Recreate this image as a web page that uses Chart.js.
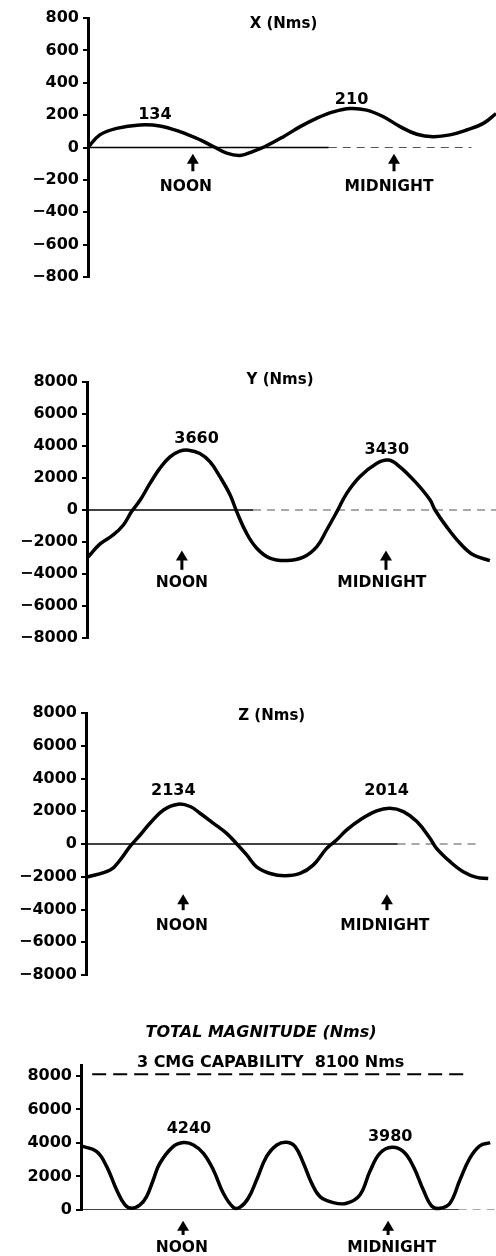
<!DOCTYPE html>
<html>
<head>
<meta charset="utf-8">
<script src="https://cdn.jsdelivr.net/npm/chart.js@4.4.0/dist/chart.umd.min.js"></script>
<style>
  html, body { margin: 0; padding: 0; background: #fff; }
  #wrap { position: relative; width: 496px; height: 1256px; overflow: hidden; }
  canvas { position: absolute; left: 0; }
</style>
</head>
<body>
<div id="wrap">
  <canvas id="chartX" width="496" height="300" style="top:0px"></canvas>
  <canvas id="chartY" width="496" height="330" style="top:330px"></canvas>
  <canvas id="chartZ" width="496" height="320" style="top:680px"></canvas>
  <canvas id="chartT" width="496" height="246" style="top:1010px"></canvas>
</div>
<script>
// orbit time, as percent of the plotted span, and momentum in Nms
const timeX = [0, 2.9, 7.0, 12.7, 17.6, 22.5, 27.5, 30.7, 34.0, 37.3, 40.5, 43.4, 47.9, 52.0, 56.0, 60.1, 64.2, 68.3, 72.4, 76.5, 80.6, 84.6, 88.7, 92.8, 96.9, 100];
const momentumX = [0, 78, 118, 139, 133, 98, 47, 6, -35, -49, -24, 6, 67, 129, 180, 220, 241, 231, 190, 129, 82, 67, 78, 108, 149, 210];

const timeY = [0, 3.2, 6.4, 8.9, 10.9, 13.0, 15.4, 17.8, 20.3, 22.7, 24.8, 27.6, 30.1, 32.5, 35.0, 36.6, 39.0, 41.5, 44.7, 48.8, 52.9, 56.2, 58.6, 61.1, 63.5, 66.7, 70.8, 73.7, 76.5, 80.6, 83.9, 85.1, 87.9, 91.2, 94.4, 98.5];
const momentumY = [-3010, -2120, -1560, -935, -100, 620, 1660, 2600, 3320, 3680, 3740, 3530, 3010, 2080, 935, -100, -1450, -2390, -3010, -3160, -2950, -2290, -1250, -100, 1040, 2080, 2910, 3120, 2700, 1660, 620, 0, -1040, -2080, -2800, -3160];

const timeZ = [0, 5.9, 8.3, 10.7, 13.2, 15.6, 18.9, 22.5, 25.4, 27.8, 31.1, 34.3, 36.8, 39.2, 41.6, 44.9, 48.5, 52.2, 55.4, 58.7, 61.1, 63.6, 66.8, 70.9, 74.1, 77.4, 80.7, 83.9, 85.5, 88.8, 92.0, 95.3, 98.1];
const momentumZ = [-2040, -1590, -980, -160, 550, 1265, 2080, 2430, 2290, 1880, 1265, 650, 0, -670, -1390, -1800, -1940, -1800, -1290, -265, 245, 860, 1470, 2020, 2180, 1980, 1370, 350, -265, -1080, -1690, -2040, -2100];

const timeT = [0, 3.8, 6.2, 8.6, 10.6, 12.2, 14.2, 15.8, 17.4, 19.0, 22.2, 24.7, 27.1, 29.5, 31.9, 34.3, 36.7, 38.3, 40.3, 42.3, 44.7, 47.2, 49.6, 51.6, 53.6, 55.6, 57.6, 60.8, 64.0, 67.2, 69.6, 72.0, 74.9, 77.7, 80.1, 82.5, 84.5, 86.5, 88.9, 91.3, 93.7, 96.1, 98.6];
const momentumT = [3820, 3480, 2590, 1190, 300, 100, 300, 800, 1790, 2790, 3780, 4020, 3880, 3380, 2390, 1000, 160, 160, 700, 1790, 3180, 3880, 4040, 3780, 2790, 1590, 800, 440, 400, 900, 2290, 3380, 3740, 3480, 2590, 1190, 240, 100, 400, 1790, 3090, 3820, 4020];

const ticksSmall = [-800, -600, -400, -200, 0, 200, 400, 600, 800];
const ticksLarge = [-8000, -6000, -4000, -2000, 0, 2000, 4000, 6000, 8000];
const ticksTotal = [0, 2000, 4000, 6000, 8000];

const titlesText = ['X (Nms)', 'Y (Nms)', 'Z (Nms)', 'TOTAL MAGNITUDE (Nms)'];
const peakText = [['134', '210'], ['3660', '3430'], ['2134', '2014'], ['4240', '3980']];
const capabilityText = '3 CMG CAPABILITY  8100 Nms';
const capabilityValue = 8100;

const FONT = '"DejaVu Sans", sans-serif';

function fmt(v) {
  return v < 0 ? '\u2212' + Math.abs(v) : String(v);
}

function toPoints(xs, ys) {
  return xs.map((x, i) => ({ x: x, y: ys[i] }));
}

// draws titles, peak values and the noon / midnight arrows
function notesPlugin(cfg) {
  return {
    id: 'notes',
    afterDatasetsDraw(chart) {
      const { ctx, scales: { x, y } } = chart;
      ctx.save();
      ctx.fillStyle = '#000';
      ctx.strokeStyle = '#000';
      ctx.textAlign = 'center';
      ctx.textBaseline = 'middle';

      cfg.texts.forEach(t => {
        ctx.font = t.font;
        ctx.fillText(t.text, x.getPixelForValue(t.x), y.getPixelForValue(t.y));
      });

      ctx.font = 'bold 15.5px ' + FONT;
      cfg.markers.forEach(m => {
        const ax = x.getPixelForValue(m.x);
        const top = y.getPixelForValue(cfg.arrow[0]);
        const bot = y.getPixelForValue(cfg.arrow[1]);
        ctx.lineWidth = 3;
        ctx.beginPath();
        ctx.moveTo(ax, bot);
        ctx.lineTo(ax, top + 6);
        ctx.stroke();
        ctx.beginPath();
        ctx.moveTo(ax, top - 1);
        ctx.lineTo(ax - 6, top + 9);
        ctx.lineTo(ax + 6, top + 9);
        ctx.closePath();
        ctx.fill();
        ctx.fillText(m.label, x.getPixelForValue(m.textX), y.getPixelForValue(cfg.textY));
      });
      ctx.restore();
    }
  };
}

function makePanel(id, p) {
  const datasets = [
    {
      data: toPoints(p.time, p.values),
      borderColor: '#000',
      borderWidth: 3.5,
      pointRadius: 0,
      tension: 0.4,
      clip: 6
    },
    {
      data: [{ x: 0, y: 0 }, { x: p.zeroSolid, y: 0 }],
      borderColor: '#000',
      borderWidth: 1.6,
      pointRadius: 0
    },
    {
      data: [{ x: p.zeroSolid, y: 0 }, { x: p.zeroEnd, y: 0 }],
      borderColor: '#555',
      borderWidth: 1.2,
      borderDash: [8, 6],
      pointRadius: 0
    }
  ];
  if (p.capability) {
    datasets.push({
      data: [{ x: p.capability[0], y: capabilityValue }, { x: p.capability[1], y: capabilityValue }],
      borderColor: '#000',
      borderWidth: 2,
      borderDash: [14, 7],
      pointRadius: 0,
      clip: false
    });
  }

  new Chart(document.getElementById(id), {
    type: 'line',
    data: { datasets: datasets },
    options: {
      responsive: false,
      animation: false,
      devicePixelRatio: 1,
      layout: { padding: { top: p.padTop, bottom: p.padBottom, left: 0, right: 0 } },
      plugins: { legend: { display: false }, tooltip: { enabled: false } },
      scales: {
        x: { type: 'linear', min: 0, max: 100, display: false },
        y: {
          min: p.min,
          max: p.max,
          afterBuildTicks: s => { s.ticks = p.ticks.map(v => ({ value: v })); },
          afterFit: s => { s.width = p.axisX; },
          border: { display: true, color: '#000', width: 3 },
          grid: { drawOnChartArea: false, drawTicks: true, tickLength: 5, color: '#000', lineWidth: 2 },
          ticks: {
            color: '#000',
            padding: 4,
            font: { family: FONT, size: 16, weight: 'bold' },
            callback: v => fmt(v)
          }
        }
      }
    },
    plugins: [notesPlugin(p.notes)]
  });
}

const titleFont = 'bold 15px ' + FONT;
const peakFont = 'bold 16px ' + FONT;

makePanel('chartX', {
  time: timeX, values: momentumX, ticks: ticksSmall, min: -800, max: 800,
  axisX: 88, padTop: 18, padBottom: 23, zeroSolid: 59, zeroEnd: 94,
  notes: {
    texts: [
      { text: titlesText[0], x: 47.9, y: 765, font: titleFont },
      { text: peakText[0][0], x: 16.4, y: 200, font: peakFont },
      { text: peakText[0][1], x: 64.6, y: 292, font: peakFont }
    ],
    arrow: [-45, -147], textY: -243,
    markers: [
      { label: 'NOON', x: 25.7, textX: 24.0 },
      { label: 'MIDNIGHT', x: 75.0, textX: 73.8 }
    ]
  }
});

makePanel('chartY', {
  time: timeY, values: momentumY, ticks: ticksLarge, min: -8000, max: 8000,
  axisX: 87, padTop: 52, padBottom: 22, zeroSolid: 40.6, zeroEnd: 100,
  notes: {
    texts: [
      { text: titlesText[1], x: 47.2, y: 8146, font: titleFont },
      { text: peakText[1][0], x: 26.8, y: 4468, font: peakFont },
      { text: peakText[1][1], x: 73.3, y: 3740, font: peakFont }
    ],
    arrow: [-2598, -3740], textY: -4572,
    markers: [
      { label: 'NOON', x: 23.2, textX: 23.2 },
      { label: 'MIDNIGHT', x: 73.1, textX: 72.1 }
    ]
  }
});

makePanel('chartZ', {
  time: timeZ, values: momentumZ, ticks: ticksLarge, min: -8000, max: 8000,
  axisX: 86, padTop: 33, padBottom: 25, zeroSolid: 76, zeroEnd: 96,
  notes: {
    texts: [
      { text: titlesText[2], x: 45.3, y: 7797, font: titleFont },
      { text: peakText[2][0], x: 21.3, y: 3266, font: peakFont },
      { text: peakText[2][1], x: 73.3, y: 3266, font: peakFont }
    ],
    arrow: [-3123, -4041], textY: -5021,
    markers: [
      { label: 'NOON', x: 23.7, textX: 23.4 },
      { label: 'MIDNIGHT', x: 73.4, textX: 72.9 }
    ]
  }
});

makePanel('chartT', {
  time: timeT, values: momentumT, ticks: ticksTotal, min: 0, max: 8650,
  axisX: 81, padTop: 55, padBottom: 46, zeroSolid: 91, zeroEnd: 100,
  capability: [2.7, 92.5],
  notes: {
    texts: [
      { text: titlesText[3], x: 43.4, y: 10567, font: 'italic bold 16px ' + FONT },
      { text: capabilityText, x: 45.7, y: 8794, font: 'bold 16px ' + FONT },
      { text: peakText[3][0], x: 26.0, y: 4836, font: peakFont },
      { text: peakText[3][1], x: 74.5, y: 4338, font: peakFont }
    ],
    arrow: [-697, -1493], textY: -2249,
    markers: [
      { label: 'NOON', x: 24.6, textX: 24.3 },
      { label: 'MIDNIGHT', x: 74.0, textX: 74.9 }
    ]
  }
});
</script>
</body>
</html>
